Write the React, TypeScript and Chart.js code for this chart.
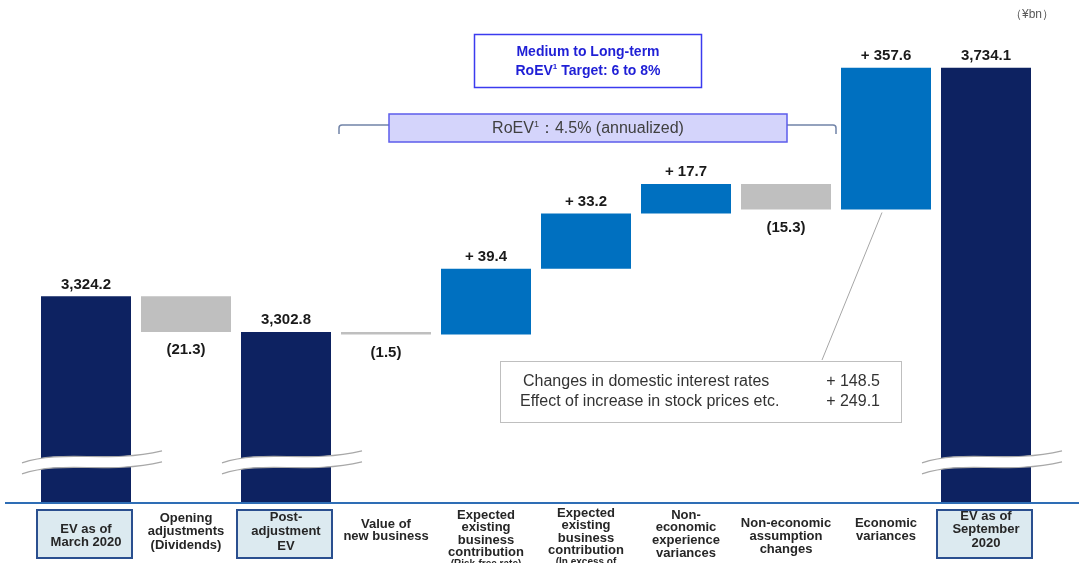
import { useEffect, useRef } from 'react';
import { Chart, registerables, LinearScale } from 'chart.js';

// ---- data -------------------------------------------------------------
const categoryLines: string[][] = [
  ['EV as of', 'March 2020'],
  ['Opening', 'adjustments', '(Dividends)'],
  ['Post-', 'adjustment', 'EV'],
  ['Value of', 'new business'],
  ['Expected', 'existing', 'business', 'contribution'],
  ['Expected', 'existing', 'business', 'contribution'],
  ['Non-', 'economic', 'experience', 'variances'],
  ['Non-economic', 'assumption', 'changes'],
  ['Economic', 'variances'],
  ['EV as of', 'September', '2020'],
];
const categoryNotes: string[] = ['', '', '', '', '(Risk-free rate)', '(In excess of', '', '', '', ''];

// totals are absolute EV levels, the rest are movements (¥bn)
const amounts: number[] = [3324.2, -21.3, 3302.8, -1.5, 39.4, 33.2, 17.7, -15.3, 357.6, 3734.1];
const isTotal: boolean[] = [true, false, true, false, false, false, false, false, false, true];

const economicBreakdownLabels: string[] = [
  'Changes in domestic interest rates',
  'Effect of increase in stock prices etc.',
];
const economicBreakdownValues: number[] = [148.5, 249.1];

const roevAnnualized = 4.5;
const roevTargetRange: number[] = [6, 8];

// ---- broken value axis --------------------------------------------------
// piecewise-linear value axis: the low part and the large top part are compressed
const VALUE_STOPS = [0, 3230, 3400, 3890];
const DECIMAL_STOPS = [0, 0.1008, 0.6888, 1];
const AXIS_BREAK_VALUE = 3000;

function valueToDecimal(v: number): number {
  for (let i = 1; i < VALUE_STOPS.length; i++) {
    if (v <= VALUE_STOPS[i] || i === VALUE_STOPS.length - 1) {
      const a = VALUE_STOPS[i - 1], b = VALUE_STOPS[i];
      const t = (v - a) / (b - a);
      return DECIMAL_STOPS[i - 1] + t * (DECIMAL_STOPS[i] - DECIMAL_STOPS[i - 1]);
    }
  }
  return 1;
}
function decimalToValue(d: number): number {
  for (let i = 1; i < DECIMAL_STOPS.length; i++) {
    if (d <= DECIMAL_STOPS[i] || i === DECIMAL_STOPS.length - 1) {
      const a = DECIMAL_STOPS[i - 1], b = DECIMAL_STOPS[i];
      const t = (d - a) / (b - a);
      return VALUE_STOPS[i - 1] + t * (VALUE_STOPS[i] - VALUE_STOPS[i - 1]);
    }
  }
  return VALUE_STOPS[VALUE_STOPS.length - 1];
}

class BrokenLinearScale extends LinearScale {
  static id = 'brokenLinear';
  static defaults = LinearScale.defaults;
  getPixelForValue(value: number): number {
    if (value === null || value === undefined) return NaN;
    return this.getPixelForDecimal(valueToDecimal(value));
  }
  getValueForPixel(pixel: number): number {
    return decimalToValue(this.getDecimalForPixel(pixel));
  }
}

Chart.register(...registerables, BrokenLinearScale as any);

// ---- helpers ------------------------------------------------------------
const FONT = '"Liberation Sans", Arial, Helvetica, sans-serif';
const NAVY = '#0D2261';
const BLUE = '#0070C0';
const GREY = '#BFBFBF';

function buildRanges(): [number, number][] {
  let level = 0;
  return amounts.map((v, i) => {
    if (isTotal[i]) {
      level = v;
      return [0, v] as [number, number];
    }
    const r: [number, number] = [level, level + v];
    level += v;
    return r;
  });
}

function formatValue(v: number, total: boolean): string {
  if (total) return v.toLocaleString('en-US', { minimumFractionDigits: 1, maximumFractionDigits: 1 });
  if (v < 0) return `(${Math.abs(v).toFixed(1)})`;
  return `+ ${v.toFixed(1)}`;
}

type Part = { text: string; sup?: boolean };
function drawRich(ctx: CanvasRenderingContext2D, parts: Part[], cx: number, cy: number, size: number, weight: string, color: string) {
  const mainFont = `${weight} ${size}px ${FONT}`;
  const supFont = `${weight} ${Math.round(size * 0.58)}px ${FONT}`;
  let total = 0;
  parts.forEach((p) => {
    ctx.font = p.sup ? supFont : mainFont;
    total += ctx.measureText(p.text).width;
  });
  let x = cx - total / 2;
  ctx.fillStyle = color;
  ctx.textAlign = 'left';
  ctx.textBaseline = 'middle';
  parts.forEach((p) => {
    ctx.font = p.sup ? supFont : mainFont;
    ctx.fillText(p.text, x, p.sup ? cy - size * 0.3 : cy);
    x += ctx.measureText(p.text).width;
  });
}

// white wavy band with two thin grey edges, marking the cut value axis
function drawBreak(ctx: CanvasRenderingContext2D, x0: number, x1: number, yc: number) {
  const w = x1 - x0;
  const gap = 11;
  const curve = (dy: number, reverse: boolean) => {
    if (!reverse) {
      ctx.bezierCurveTo(x0 + 0.3 * w, yc - 8 + dy, x0 + 0.6 * w, yc + 7 + dy, x1, yc - 6 + dy);
    } else {
      ctx.bezierCurveTo(x0 + 0.6 * w, yc + 7 + dy, x0 + 0.3 * w, yc - 8 + dy, x0, yc + 6 + dy);
    }
  };
  ctx.save();
  ctx.beginPath();
  ctx.moveTo(x0, yc + 6);
  curve(0, false);
  ctx.lineTo(x1, yc - 6 + gap);
  curve(gap, true);
  ctx.closePath();
  ctx.fillStyle = '#FFFFFF';
  ctx.fill();
  ctx.strokeStyle = '#A8A8A8';
  ctx.lineWidth = 1.2;
  ctx.beginPath();
  ctx.moveTo(x0, yc + 6);
  curve(0, false);
  ctx.stroke();
  ctx.beginPath();
  ctx.moveTo(x0, yc + 6 + gap);
  curve(gap, false);
  ctx.stroke();
  ctx.restore();
}

// first-line centre and line spacing of each category caption
const CAPTION_FIRST_Y = [529, 518, 517, 524, 515, 513, 515, 523, 523, 516];
const CAPTION_LINE_H = [13.5, 13.5, 14.5, 12.5, 12.5, 12.5, 12.7, 13, 13, 13.5];

const decorPlugin = {
  id: 'waterfallDecor',
  afterDatasetsDraw(chart: any) {
    const ctx: CanvasRenderingContext2D = chart.ctx;
    const meta = chart.getDatasetMeta(0);
    const yScale = chart.scales.y;
    const area = chart.chartArea;

    // axis break marks on the total bars
    const yb = yScale.getPixelForValue(AXIS_BREAK_VALUE);
    isTotal.forEach((t, i) => {
      if (!t) return;
      const bx = meta.data[i].x;
      drawBreak(ctx, bx - 64, bx + 76, yb);
    });

    // baseline
    ctx.save();
    ctx.strokeStyle = '#2E6DB5';
    ctx.lineWidth = 2;
    ctx.beginPath();
    ctx.moveTo(5, area.bottom + 1);
    ctx.lineTo(chart.width, area.bottom + 1);
    ctx.stroke();

    // value labels
    ctx.font = `bold 15px ${FONT}`;
    ctx.fillStyle = '#1A1A1A';
    ctx.textAlign = 'center';
    ctx.textBaseline = 'middle';
    meta.data.forEach((bar: any, i: number) => {
      const top = Math.min(bar.y, bar.base);
      const bottom = Math.max(bar.y, bar.base);
      const v = amounts[i];
      const text = formatValue(v, isTotal[i]);
      if (!isTotal[i] && v < 0) ctx.fillText(text, bar.x, bottom + 18);
      else ctx.fillText(text, bar.x, top - 12);
    });
    ctx.restore();
  },
  afterDraw(chart: any) {
    const ctx: CanvasRenderingContext2D = chart.ctx;
    const meta = chart.getDatasetMeta(0);
    const xScale = chart.scales.x;
    ctx.save();

    // category captions
    categoryLines.forEach((lines, i) => {
      const cx = xScale.getPixelForValue(i);
      if (isTotal[i]) {
        ctx.fillStyle = '#DCEAF0';
        ctx.fillRect(cx - 49, 510, 95, 48);
        ctx.strokeStyle = '#2A4F8F';
        ctx.lineWidth = 2;
        ctx.strokeRect(cx - 49, 510, 95, 48);
      }
      ctx.fillStyle = '#262626';
      ctx.textAlign = 'center';
      ctx.textBaseline = 'middle';
      ctx.font = `bold 13px ${FONT}`;
      lines.forEach((ln, k) => {
        ctx.fillText(ln, cx, CAPTION_FIRST_Y[i] + k * CAPTION_LINE_H[i]);
      });
      if (categoryNotes[i]) {
        ctx.font = `bold 10px ${FONT}`;
        ctx.fillText(categoryNotes[i], cx, CAPTION_FIRST_Y[i] + lines.length * CAPTION_LINE_H[i] - 1);
      }
    });

    // unit
    ctx.font = `12px ${FONT}`;
    ctx.fillStyle = '#595959';
    ctx.textAlign = 'center';
    ctx.textBaseline = 'middle';
    ctx.fillText('（¥bn）', 1032, 15);

    // medium to long-term target box
    ctx.fillStyle = '#FFFFFF';
    ctx.fillRect(474, 34, 227, 53);
    ctx.strokeStyle = '#3B3BEF';
    ctx.lineWidth = 1.5;
    ctx.strokeRect(474.5, 34.5, 227, 53);
    drawRich(ctx, [{ text: 'Medium to Long-term' }], 588, 52, 14, 'bold', '#1F1FD6');
    drawRich(
      ctx,
      [{ text: 'RoEV' }, { text: '1', sup: true }, { text: ` Target: ${roevTargetRange[0]} to ${roevTargetRange[1]}%` }],
      588, 71, 14, 'bold', '#1F1FD6'
    );

    // RoEV bracket across the movement bars
    const b3 = meta.data[3];
    const b8 = meta.data[8];
    const bl = b3.x - b3.width / 2 - 2;
    const br = b8.x - b8.width / 2 - 5;
    const boxL = 389, boxR = 787, boxT = 114, boxB = 142;
    ctx.strokeStyle = '#7284A8';
    ctx.lineWidth = 1.5;
    ctx.beginPath();
    ctx.moveTo(bl, 134);
    ctx.lineTo(bl, 128);
    ctx.quadraticCurveTo(bl, 125, bl + 3, 125);
    ctx.lineTo(boxL, 125);
    ctx.moveTo(boxR, 125);
    ctx.lineTo(br - 3, 125);
    ctx.quadraticCurveTo(br, 125, br, 128);
    ctx.lineTo(br, 134);
    ctx.stroke();
    ctx.fillStyle = '#D4D4FB';
    ctx.fillRect(boxL, boxT, boxR - boxL, boxB - boxT);
    ctx.strokeStyle = '#5C5CEB';
    ctx.strokeRect(boxL, boxT, boxR - boxL, boxB - boxT);
    drawRich(
      ctx,
      [{ text: 'RoEV' }, { text: '1', sup: true }, { text: `：${roevAnnualized.toFixed(1)}% (annualized)` }],
      588, 129, 16, 'normal', '#404040'
    );

    // economic variances breakdown call-out
    const b8bottom = Math.max(b8.y, b8.base);
    ctx.strokeStyle = '#A6A6A6';
    ctx.lineWidth = 1;
    ctx.beginPath();
    ctx.moveTo(b8.x - 4, b8bottom + 3);
    ctx.lineTo(822, 360);
    ctx.stroke();
    ctx.fillStyle = '#FFFFFF';
    ctx.fillRect(500, 361, 401, 61);
    ctx.strokeStyle = '#BFBFBF';
    ctx.strokeRect(500.5, 361.5, 401, 61);
    ctx.font = `16px ${FONT}`;
    ctx.fillStyle = '#333333';
    ctx.textBaseline = 'middle';
    economicBreakdownLabels.forEach((label, k) => {
      const y = 382 + k * 20;
      ctx.textAlign = 'left';
      ctx.fillText(label, k === 0 ? 523 : 520, y);
      ctx.textAlign = 'right';
      ctx.fillText(`+ ${economicBreakdownValues[k].toFixed(1)}`, 880, y);
    });

    ctx.restore();
  },
};

export default function App() {
  const canvasRef = useRef<HTMLCanvasElement | null>(null);

  useEffect(() => {
    const canvas = canvasRef.current;
    if (!canvas) return;
    const ranges = buildRanges();
    const colors = amounts.map((v, i) => (isTotal[i] ? NAVY : v >= 0 ? BLUE : GREY));
    const chart = new Chart(canvas, {
      type: 'bar',
      data: {
        labels: categoryLines.map((l) => l.join(' ')),
        datasets: [
          {
            data: ranges as any,
            backgroundColor: colors,
            borderWidth: 0,
            categoryPercentage: 1,
            barPercentage: 0.9,
          },
        ],
      },
      options: {
        animation: false,
        responsive: false,
        devicePixelRatio: 1,
        layout: { padding: { left: 36, right: 43, top: 20, bottom: 61 } },
        plugins: { legend: { display: false }, tooltip: { enabled: false } },
        scales: {
          x: { type: 'category', display: false, offset: true, grid: { display: false } },
          y: { type: 'brokenLinear' as any, display: false, min: 0, max: VALUE_STOPS[VALUE_STOPS.length - 1] },
        },
      },
      plugins: [decorPlugin],
    });
    return () => chart.destroy();
  }, []);

  return (
    <div style={{ position: 'absolute', left: 0, top: 0, width: 1079, height: 563, background: '#FFFFFF' }}>
      <canvas ref={canvasRef} width={1079} height={563} style={{ display: 'block' }} />
    </div>
  );
}
